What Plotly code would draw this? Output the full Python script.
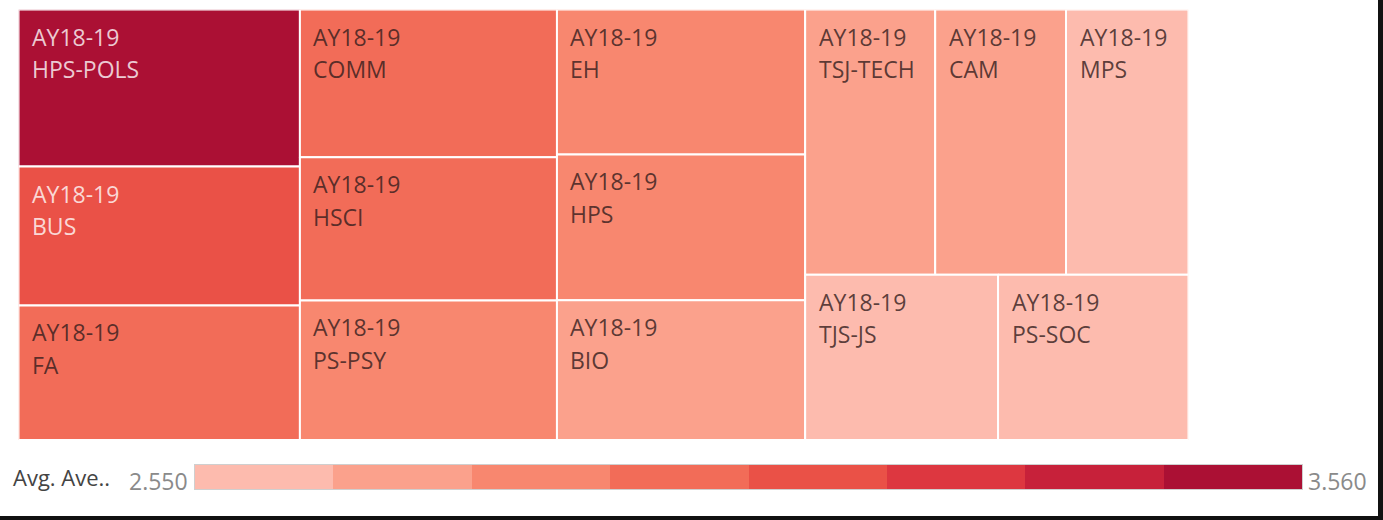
import plotly.graph_objects as go

# ---------------- data ----------------
year_label = "AY18-19"
departments = ["HPS-POLS", "BUS", "FA", "COMM", "HSCI", "PS-PSY", "EH", "HPS",
               "BIO", "TSJ-TECH", "CAM", "MPS", "TJS-JS", "PS-SOC"]
sizes = [442, 391, 379, 380, 368, 359, 360, 362, 347, 345, 347, 325, 319, 315]
avg_values = [3.56, 3.10, 2.98, 2.96, 2.94, 2.85, 2.84, 2.83, 2.72, 2.70,
              2.73, 2.58, 2.55, 2.60]
legend_title = "Avg. Ave.."
step_colors = ["#FDBBAE", "#FBA18C", "#F8876F", "#F26C58",
               "#EA5147", "#DD3740", "#C7213A", "#AB1034"]

# Tableau-style arrangement: columns, then rows inside the last column
arrangement = [[0, 1, 2], [3, 4, 5], [6, 7, 8], [[9, 10, 11], [12, 13]]]

# ---------------- layout computation (slice-and-dice) ----------------
def node_sum(node):
    if isinstance(node, int):
        return sizes[node]
    return sum(node_sum(c) for c in node)


def tile(node, x0, y0, x1, y1, horiz, out):
    if isinstance(node, int):
        out[node] = (x0, y0, x1, y1)
        return
    total = node_sum(node)
    pos = x0 if horiz else y0
    for c in node:
        frac = node_sum(c) / total
        if horiz:
            w = (x1 - x0) * frac
            tile(c, pos, y0, pos + w, y1, not horiz, out)
            pos += w
        else:
            h = (y1 - y0) * frac
            tile(c, x0, pos, x1, pos + h, not horiz, out)
            pos += h


rects = {}
tile(arrangement, 0.0, 0.0, 1.0, 1.0, True, rects)

vmin, vmax = min(avg_values), max(avg_values)
nsteps = len(step_colors)


def step_index(v):
    i = int((v - vmin) / (vmax - vmin) * nsteps)
    return max(0, min(nsteps - 1, i))


W, H = 1383, 520
FONT = "Open Sans"

fig = go.Figure()
annotations = []
for i, name in enumerate(departments):
    x0, y0, x1, y1 = rects[i]
    si = step_index(avg_values[i])
    fig.add_trace(go.Scatter(
        x=[x0, x1, x1, x0, x0], y=[y0, y0, y1, y1, y0],
        mode="lines", fill="toself", fillcolor=step_colors[si],
        line=dict(color="white", width=2),
        hoverinfo="text", text=f"{year_label} {name}: {avg_values[i]:.2f}",
        showlegend=False, xaxis="x", yaxis="y"))
    tcol = "rgba(255,255,255,0.78)" if si >= 4 else "rgba(50,28,28,0.8)"
    for line_txt, dy in ((year_label, -27), (name, -59.5)):
        annotations.append(dict(
            x=x0, y=y0, xref="x", yref="y", text=line_txt, showarrow=False,
            xanchor="left", yanchor="middle", xshift=11.5, yshift=dy,
            font=dict(family=FONT, size=23, color=tcol)))

# ---------------- stepped colour legend ----------------
step_w = (vmax - vmin) / nsteps
centers = [vmin + step_w * (k + 0.5) for k in range(nsteps)]
cscale = []
for k, c in enumerate(step_colors):
    cscale.append([k / nsteps, c])
    cscale.append([(k + 1) / nsteps, c])
fig.add_trace(go.Heatmap(
    x=centers, y=[0], z=[list(range(nsteps))], zmin=-0.5, zmax=nsteps - 0.5,
    colorscale=cscale, showscale=False, hoverinfo="skip",
    xaxis="x2", yaxis="y2"))

annotations += [
    dict(x=11 / W, y=(H - 477) / H, xref="paper", yref="paper", text=legend_title,
         showarrow=False, xanchor="left", yanchor="middle",
         font=dict(family=FONT, size=22, color="#444444")),
    dict(x=190 / W, y=(H - 481) / H, xref="paper", yref="paper", text=f"{vmin:.3f}",
         showarrow=False, xanchor="right", yanchor="middle",
         font=dict(family=FONT, size=23, color="#8a8a8a")),
    dict(x=1306 / W, y=(H - 481) / H, xref="paper", yref="paper", text=f"{vmax:.3f}",
         showarrow=False, xanchor="left", yanchor="middle",
         font=dict(family=FONT, size=23, color="#8a8a8a")),
]

hidden = dict(showgrid=False, zeroline=False, showticklabels=False, ticks="",
              showline=False, fixedrange=True)
fig.update_layout(
    width=W, height=H, autosize=False,
    margin=dict(l=0, r=0, t=0, b=0, pad=0),
    paper_bgcolor="#111111", plot_bgcolor="rgba(0,0,0,0)",
    xaxis=dict(domain=[18.5 / W, 1188.5 / W], range=[0, 1], **hidden),
    yaxis=dict(domain=[(H - 440) / H, (H - 9.5) / H], range=[1, 0], **hidden),
    xaxis2=dict(domain=[195 / W, 1302 / W], range=[vmin, vmax], anchor="y2",
                showgrid=False, zeroline=False, showticklabels=False, ticks="",
                showline=True, mirror=True, linecolor="#cfcfcf", linewidth=1,
                fixedrange=True),
    yaxis2=dict(domain=[(H - 489) / H, (H - 465) / H], range=[-0.5, 0.5], anchor="x2",
                showgrid=False, zeroline=False, showticklabels=False, ticks="",
                showline=True, mirror=True, linecolor="#cfcfcf", linewidth=1,
                fixedrange=True),
    shapes=[dict(type="rect", xref="paper", yref="paper", x0=0, x1=1378 / W,
                 y0=(H - 516) / H, y1=1, fillcolor="white", line=dict(width=0),
                 layer="below")],
    annotations=annotations,
)

fig.write_html("out.html",
               config={"displayModeBar": False},
               post_script="document.body.style.margin='0';"
                           "document.body.style.overflow='hidden';")
